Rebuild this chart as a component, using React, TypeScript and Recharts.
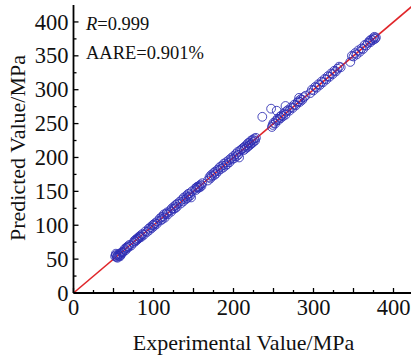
import { ScatterChart, Scatter, XAxis, YAxis, ReferenceLine } from "recharts";

const axisTicks = [0, 25, 50, 75, 100, 125, 150, 175, 200, 225, 250, 275, 300, 325, 350, 375, 400];

// experimental vs predicted flow stress (MPa)
const experimental = [
  52, 53, 54, 55, 56, 57, 58, 59, 60, 61, 62, 55, 58, 53,
  64, 65, 66, 67, 68, 69, 70, 72,
  75, 76, 77, 78, 79, 80, 81, 82, 83, 84, 85, 86, 88,
  90, 92, 94, 95, 96, 98, 99, 100, 101, 102, 104, 105,
  108, 109, 110, 111, 112, 113, 114, 116, 117, 118,
  121, 122, 123, 125, 126, 127, 128, 129, 130,
  133, 134, 136, 137, 138, 140, 141, 142, 143, 144, 145, 146, 148, 147,
  152, 153, 154, 155, 156, 157, 158, 159, 160, 161,
  168, 170, 171, 172, 173, 175, 176, 177, 178,
  180, 181, 183, 184, 186, 187, 188, 190, 191, 192, 194, 195,
  197, 198, 200, 201, 203, 204, 205, 206, 208, 207, 210,
  212, 213, 214, 215, 216, 217, 218, 219, 220, 221, 222, 223, 224, 225, 226, 227, 228,
  236, 247, 254, 265, 282,
  248, 249, 250, 252, 253, 255, 256, 258, 259, 260, 262, 263, 265, 266, 268, 270, 272, 274, 276, 278, 280, 281, 283, 284, 286, 288, 290,
  296, 298, 300, 302, 304, 306, 308, 310, 312, 314, 316, 318, 320, 322, 324, 326, 328, 330, 332, 334,
  346, 348, 350, 352, 354, 356, 358, 360, 362, 364, 366, 368, 370, 371, 372, 374, 375, 376, 377, 378,
];

const predicted = [
  54, 56, 53, 55, 57, 55, 58, 56, 60, 59, 61, 52, 54, 58,
  65, 63, 67, 66, 69, 68, 71, 70,
  74, 77, 76, 79, 78, 81, 80, 83, 82, 85, 83, 87, 86,
  91, 90, 95, 93, 97, 96, 100, 101, 99, 103, 102, 106,
  110, 107, 112, 109, 113, 116, 111, 117, 119, 116,
  122, 120, 125, 124, 128, 125, 130, 127, 132,
  135, 132, 138, 135, 141, 138, 143, 140, 146, 142, 147, 144, 150, 141,
  154, 152, 156, 157, 155, 158, 156, 160, 158, 162,
  166, 171, 169, 174, 172, 177, 174, 179, 176,
  182, 180, 186, 183, 188, 185, 191, 188, 193, 190, 196, 193,
  199, 197, 202, 199, 205, 202, 208, 204, 210, 200, 212,
  214, 211, 216, 213, 218, 215, 221, 217, 222, 219, 225, 221, 226, 223, 228, 225, 229,
  260, 272, 269, 276, 288,
  245, 248, 251, 250, 254, 257, 255, 260, 258, 262, 261, 265, 263, 268, 270, 269, 274, 273, 278, 277, 281, 283, 282, 286, 285, 289, 291,
  295, 300, 299, 304, 303, 308, 307, 312, 311, 316, 315, 320, 319, 324, 323, 328, 327, 331, 334, 333,
  341, 350, 349, 354, 352, 358, 356, 361, 360, 366, 365, 369, 372, 370, 374, 373, 376, 378, 375, 377,
];

const points = experimental.map((x, i) => ({ x, y: predicted[i] }));

const FONT = "'Liberation Serif', 'Times New Roman', serif";
const TICK_MARGIN = 5;

const YTick = ({ x, y, payload }: any) => {
  const major = payload.value % 50 === 0;
  const axisX = x + TICK_MARGIN;
  return (
    <g>
      <line x1={axisX} x2={axisX + (major ? 5 : 3)} y1={y} y2={y} stroke="#000" strokeWidth={1.3} />
      {major && (
        <text x={x} y={y} dy="0.34em" textAnchor="end" fontFamily={FONT} fontSize={22.5} fill="#111">
          {payload.value}
        </text>
      )}
    </g>
  );
};

const XTick = ({ x, y, payload }: any) => {
  const major = payload.value % 50 === 0;
  const axisY = y - TICK_MARGIN;
  return (
    <g>
      <line x1={x} x2={x} y1={axisY} y2={axisY - (major ? 5 : 3)} stroke="#000" strokeWidth={1.3} />
      {major && payload.value % 100 === 0 && (
        <text x={x} y={axisY + 22} textAnchor="middle" fontFamily={FONT} fontSize={22.5} fill="#111">
          {payload.value}
        </text>
      )}
    </g>
  );
};

const Ring = (props: any) => (
  <circle cx={props.cx} cy={props.cy} r={4.4} fill="none" stroke="#2a2ab2" strokeWidth={0.85} />
);

export default function App() {
  return (
    <div style={{ position: "fixed", left: 0, top: 0, width: 411, height: 360, overflow: "hidden", background: "#fff" }}>
      <ScatterChart width={416} height={360} margin={{ top: 5, right: 2.5, left: 0, bottom: 0 }}>
        <XAxis
          dataKey="x"
          type="number"
          domain={[0, 425]}
          ticks={axisTicks}
          interval={0}
          height={67}
          tickSize={0}
          tickMargin={TICK_MARGIN}
          tickLine={false}
          axisLine={{ stroke: "#000", strokeWidth: 1.8 }}
          tick={<XTick />}
        />
        <XAxis xAxisId="top" orientation="top" type="number" domain={[0, 425]} height={0} tick={false} tickLine={false} axisLine={{ stroke: "#000", strokeWidth: 1.8 }} />
        <YAxis
          dataKey="y"
          type="number"
          domain={[0, 425]}
          ticks={axisTicks}
          interval={0}
          width={73.5}
          tickSize={0}
          tickMargin={TICK_MARGIN}
          tickLine={false}
          axisLine={{ stroke: "#000", strokeWidth: 1.8 }}
          tick={<YTick />}
        />
        <YAxis yAxisId="right" orientation="right" type="number" domain={[0, 425]} width={0} tick={false} tickLine={false} axisLine={{ stroke: "#000", strokeWidth: 1.8 }} />
        <Scatter data={points} shape={<Ring />} isAnimationActive={false} />
        <ReferenceLine segment={[{ x: 0, y: 0 }, { x: 425, y: 425 }]} stroke="#e0262a" strokeWidth={1.6} />
      </ScatterChart>
      <svg width={411} height={360} style={{ position: "absolute", left: 0, top: 0, pointerEvents: "none" }}>
        <text x={86} y={29.5} fontFamily={FONT} fontSize={18.5} fill="#111">
          <tspan fontStyle="italic">R</tspan>=0.999
        </text>
        <text x={86} y={58.5} fontFamily={FONT} fontSize={18.5} fill="#111">
          AARE=0.901%
        </text>
        <text x={243.5} y={350} textAnchor="middle" fontFamily={FONT} fontSize={22} fill="#111">
          Experimental Value/MPa
        </text>
        <text
          x={25}
          y={148}
          textAnchor="middle"
          fontFamily={FONT}
          fontSize={22}
          fill="#111"
          transform="rotate(-90 25 148)"
        >
          Predicted Value/MPa
        </text>
      </svg>
    </div>
  );
}
